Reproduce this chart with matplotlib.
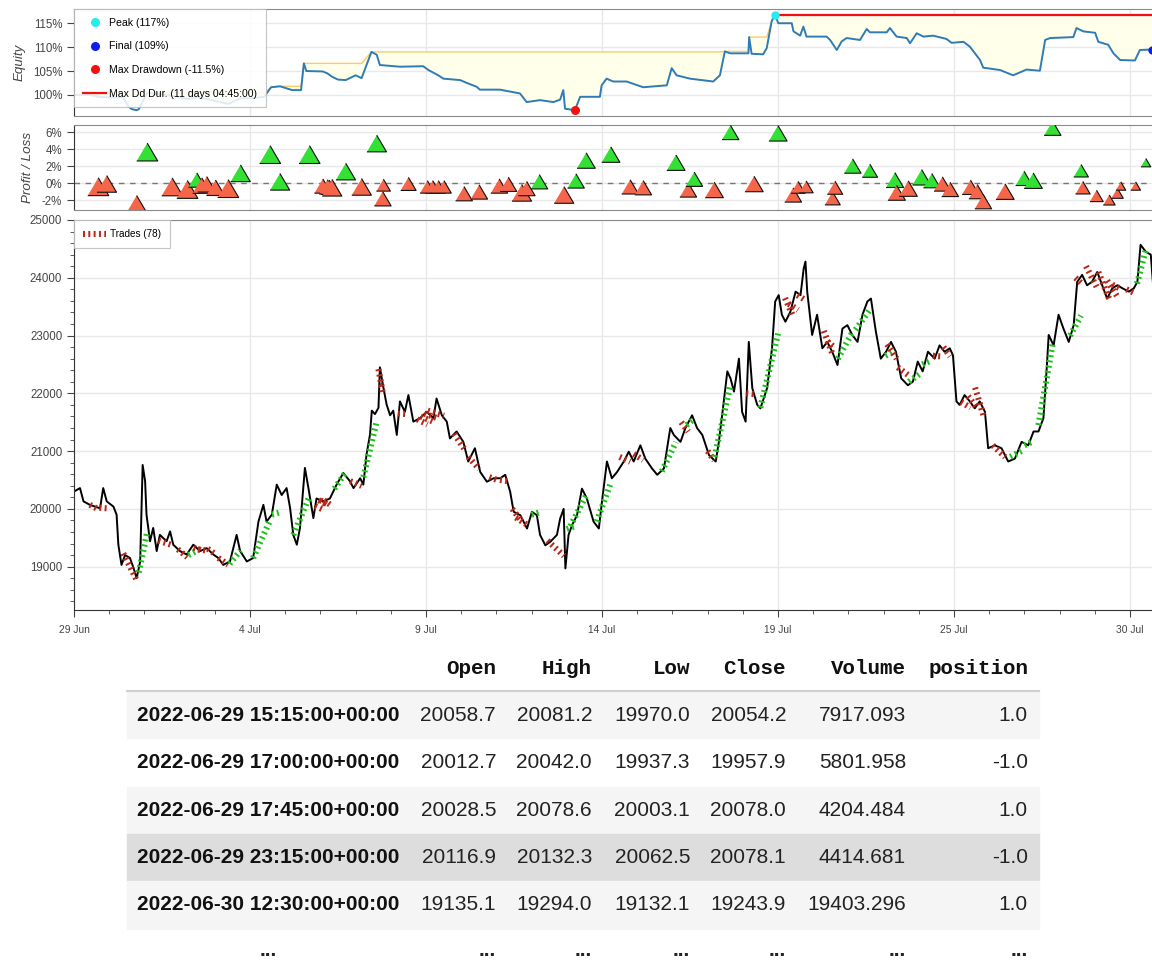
import numpy as np
import matplotlib.pyplot as plt
from matplotlib.lines import Line2D
from matplotlib.patches import Rectangle
from matplotlib.ticker import MultipleLocator

plt.rcParams['font.family'] = ['Liberation Sans', 'DejaVu Sans']

# x positions are in trading-day units, 0 = 29 Jun
tick_days = [0, 5, 10, 15, 20, 25, 30]
tick_labels = ['29 Jun', '4 Jul', '9 Jul', '14 Jul', '19 Jul', '25 Jul', '30 Jul']

price_day = [0.00, 0.17, 0.27, 0.45, 0.74, 0.83, 0.93, 1.12, 1.21, 1.26, 1.35, 1.45, 1.59, 1.69, 1.78,
             1.88, 1.95, 2.02, 2.06, 2.16, 2.25, 2.35, 2.44, 2.63, 2.73, 2.82, 3.01, 3.20, 3.39, 3.58,
             3.77, 3.96, 4.10, 4.24, 4.43, 4.62, 4.72, 4.91, 5.09, 5.24, 5.38, 5.47, 5.62, 5.76, 5.90,
             6.04, 6.14, 6.23, 6.33, 6.42, 6.56, 6.66, 6.80, 6.89, 7.08, 7.27, 7.46, 7.65, 7.84, 7.94,
             8.13, 8.22, 8.31, 8.41, 8.46, 8.55, 8.65, 8.69, 8.79, 8.88, 8.98, 9.07, 9.17, 9.26, 9.40,
             9.50, 9.64, 9.83, 10.02, 10.21, 10.30, 10.45, 10.59, 10.68, 10.87, 11.06, 11.20, 11.39,
             11.54, 11.73, 11.92, 12.11, 12.25, 12.39, 12.49, 12.68, 12.87, 13.01, 13.15, 13.24, 13.39,
             13.53, 13.72, 13.81, 13.91, 13.96, 14.05, 14.15, 14.29, 14.43, 14.57, 14.76, 14.91, 15.00,
             15.14, 15.28, 15.43, 15.62, 15.76, 15.90, 16.09, 16.23, 16.42, 16.57, 16.76, 16.94, 17.04,
             17.23, 17.37, 17.56, 17.70, 17.85, 18.04, 18.23, 18.32, 18.46, 18.56, 18.65, 18.75, 18.89,
             18.98, 19.08, 19.17, 19.27, 19.41, 19.50, 19.69, 19.83, 19.92, 20.02, 20.11, 20.21, 20.35,
             20.50, 20.64, 20.73, 20.78, 20.83, 20.97, 21.11, 21.26, 21.40, 21.54, 21.69, 21.83, 21.97,
             22.11, 22.26, 22.40, 22.54, 22.64, 22.78, 22.92, 23.07, 23.21, 23.35, 23.50, 23.69, 23.83,
             23.97, 24.11, 24.26, 24.45, 24.59, 24.73, 24.88, 24.97, 25.07, 25.16, 25.30, 25.45, 25.59,
             25.73, 25.88, 25.97, 26.16, 26.35, 26.54, 26.73, 26.92, 27.11, 27.26, 27.40, 27.54, 27.64,
             27.69, 27.83, 27.97, 28.11, 28.26, 28.40, 28.50, 28.64, 28.78, 28.92, 29.07, 29.21, 29.35,
             29.50, 29.64, 29.78, 29.97, 30.11, 30.21, 30.30, 30.45, 30.59, 30.70]
price_close = [20300, 20360, 20130, 20070, 20010, 20360, 20130, 20040, 19900, 19380, 19030, 19200, 19150, 18980, 18800,
               19090, 20760, 20480, 19900, 19440, 19670, 19270, 19550, 19440, 19610, 19380, 19270, 19210, 19380, 19270,
               19320, 19210, 19150, 19030, 19090, 19550, 19270, 19090, 19150, 19780, 20070, 19780, 19900, 20420, 20240,
               20360, 20010, 19550, 19380, 19670, 20710, 20360, 19840, 20180, 20130, 20180, 20420, 20620, 20480, 20360,
               20530, 20420, 20940, 21290, 21700, 21640, 21750, 22450, 22100, 21810, 21620, 21700, 21280, 21860, 21680,
               21970, 21510, 21570, 21680, 21570, 21910, 21620, 21510, 21220, 21340, 21160, 20820, 21050,
               20640, 20470, 20530, 20530, 20590, 20300, 19950, 19890, 19660, 19950, 19890, 19550, 19370,
               19430, 19550, 19830, 20000, 18970, 19550, 19720, 19890, 20350, 20180, 19780, 19660, 20130,
               20820, 20530, 20640, 20820, 20990, 20820, 21100, 20870, 20700, 20590, 20700, 21400, 21280,
               21160, 21400, 21620, 21400, 21280, 20930, 20820, 21160, 21860, 22380, 22260, 22030, 22600,
               21680, 21510, 22890, 22090, 21800, 21740, 22090, 22780, 23590, 23700, 23360, 23240, 23410,
               23760, 23700, 24160, 24280, 23760, 23010, 23360, 22780, 22890, 22720, 22490, 23120, 23180,
               23010, 22890, 23360, 23590, 23640, 23070, 22600, 22720, 22890, 22720, 22260, 22140, 22200,
               22550, 22380, 22720, 22600, 22830, 22720, 22780, 22660, 21860, 21800, 21970, 21860, 21740,
               21860, 21680, 21050, 21100, 21050, 20820, 20870, 21160, 21100, 21340, 21340, 21570, 22490,
               23010, 22830, 23360, 23120, 22890, 23180, 23930, 24050, 23870, 23930, 24100, 23870, 23640,
               23820, 23870, 23820, 23760, 23820, 23930, 24570, 24450, 24400, 23530]

equity_day = [0.00, 0.45, 0.69, 0.93, 1.40, 1.55, 1.65, 1.78, 1.84, 2.08, 2.40, 2.79, 3.22, 3.49, 3.63,
              3.77, 4.02, 4.38, 4.73, 5.09, 5.40, 5.60, 5.85, 6.20, 6.45, 6.53, 6.60, 7.07, 7.20, 7.33,
              7.50, 7.72, 8.00, 8.17, 8.45, 8.60, 8.69, 9.26, 9.92, 10.07, 10.35, 10.49, 10.97, 11.16,
              11.44, 11.53, 12.10, 12.67, 12.86, 13.24, 13.62, 13.81, 13.90, 13.95, 14.23, 14.38, 14.94,
              14.99, 15.13, 15.32, 15.70, 16.17, 16.84, 16.98, 17.12, 17.50, 18.16, 18.35, 18.49, 18.64,
              19.16, 19.18, 19.25, 19.58, 19.68, 19.82, 19.91, 20.01, 20.39, 20.44, 20.63, 20.72, 20.81,
              21.38, 21.48, 21.67, 21.81, 21.95, 22.33, 22.52, 22.61, 23.09, 23.18, 23.37, 23.66, 23.75,
              23.94, 24.13, 24.41, 24.79, 24.93, 25.27, 25.45, 25.74, 25.83, 26.31, 26.68, 27.06, 27.44,
              27.59, 27.73, 28.39, 28.48, 28.67, 29.01, 29.10, 29.38, 29.53, 29.72, 30.14, 30.28, 30.63]
equity_pct = [100.0, 100.0, 99.6, 99.5, 99.5, 97.5, 97.0, 96.8, 97.0, 100.4, 100.2, 99.8, 99.1, 99.5, 99.3,
              99.2, 98.7, 98.1, 99.3, 99.3, 99.6, 101.6, 101.8, 101.0, 101.0, 106.6, 105.0, 104.9, 104.5, 103.8,
              103.2, 103.1, 104.1, 103.5, 109.0, 108.4, 106.25, 105.9, 106.0, 105.2, 104.1, 103.4, 103.1, 102.5,
              101.7, 101.1, 101.1, 100.3, 98.5, 98.9, 98.5, 99.0, 101.0, 97.1, 96.8, 99.6, 99.6,
              102.0, 103.4, 102.8, 102.8, 101.6, 102.0, 105.6, 104.1, 103.4, 102.8, 104.1, 109.1, 108.7,
              108.7, 112.1, 108.6, 108.5, 109.8, 115.4, 116.8, 115.0, 115.0, 113.3, 112.4, 114.3, 112.2,
              112.2, 111.5, 109.4, 111.2, 111.9, 111.5, 113.8, 113.1, 113.1, 114.0, 112.2, 111.9, 110.8,
              112.9, 112.2, 112.4, 111.7, 110.9, 111.1, 110.1, 107.3, 105.7, 105.2, 104.1, 105.3, 105.05,
              111.5, 111.9, 112.1, 114.0, 113.3, 113.0, 111.1, 110.5, 108.7, 107.3, 107.2, 109.4, 109.5]

trade_entry_day = [0.45, 0.72, 1.40, 1.84, 2.40, 2.95, 3.25, 3.40, 3.52, 3.80,
                   4.10, 4.42, 5.09, 5.62, 6.23, 6.85, 6.95, 7.00, 7.10, 7.40,
                   7.85, 8.22, 8.65, 8.68, 9.20, 9.75, 9.85, 9.95, 10.05, 10.80,
                   11.20, 11.80, 12.10, 12.45, 12.55, 13.00, 13.45, 14.00, 14.10, 14.85,
                   15.50, 15.90, 16.70, 17.25, 17.40, 18.00, 18.20, 19.10, 19.50, 20.20,
                   20.30, 20.55, 21.30, 21.40, 21.70, 22.20, 23.05, 23.10, 23.40, 23.72,
                   24.10, 24.40, 24.70, 25.20, 25.40, 25.60, 26.10, 26.60, 27.00, 27.40,
                   28.30, 28.45, 28.75, 29.10, 29.35, 29.50, 29.90, 30.20]
trade_exit_day = [0.69, 0.93, 1.78, 2.08, 2.79, 3.22, 3.49, 3.63, 3.77, 4.02,
                  4.38, 4.73, 5.57, 5.85, 6.69, 7.07, 7.20, 7.25, 7.33, 7.72,
                  8.17, 8.60, 8.77, 8.79, 9.50, 10.04, 10.19, 10.35, 10.51, 11.08,
                  11.51, 12.08, 12.34, 12.72, 12.86, 13.22, 13.92, 14.26, 14.55, 15.25,
                  15.80, 16.17, 17.10, 17.45, 17.62, 18.19, 18.65, 19.32, 20.00, 20.43,
                  20.57, 20.80, 21.55, 21.62, 22.12, 22.61, 23.32, 23.37, 23.70, 24.08,
                  24.37, 24.67, 24.89, 25.47, 25.66, 25.83, 26.45, 26.99, 27.25, 27.80,
                  28.61, 28.66, 29.05, 29.41, 29.64, 29.74, 30.16, 30.45]
trade_entry_price = [20070, 20020, 19230, 18900, 19450, 19300, 19200, 19330, 19300, 19310,
                     19150, 19050, 19150, 19900, 19550, 20050, 20150, 20150, 20150, 20350,
                     20480, 20550, 22420, 22150, 21650, 21550, 21600, 21650, 21700, 21300,
                     20900, 20550, 20500, 20000, 19850, 19900, 19450, 19650, 19700, 19780,
                     20900, 20950, 20650, 21500, 21450, 21000, 20900, 22000, 21750, 23650,
                     23550, 23700, 23080, 22900, 22600, 23100, 22650, 22850, 22450, 22200,
                     22500, 22650, 22800, 21850, 21950, 22100, 21100, 20900, 21100, 21450,
                     23000, 24000, 24200, 24100, 23950, 23880, 23800, 23900]
trade_pnl = [-0.38, -0.05, -2.4, 3.7, -0.4, -0.7, 0.4, -0.25, -0.1, -0.5,
             -0.6, 1.2, 3.4, 0.2, 3.4, -0.3, -0.4, -0.45, -0.5, 1.4,
             -0.4, 4.7, -1.8, -0.2, -0.05, -0.4, -0.4, -0.4, -0.4, -1.2,
             -1.0, -0.3, -0.1, -1.1, -0.6, 0.2, -1.35, 0.3, 2.7, 3.4,
             -0.4, -0.5, 2.45, -0.76, 0.5, -0.76, 6.0, -0.06, 5.9, -1.35,
             -0.45, -0.4, -1.75, -0.5, 2.05, 1.5, 0.4, -1.1, -0.6, 0.73,
             0.33, -0.06, -0.7, -0.45, -0.96, -2.14, -0.96, 0.6, 0.33, 6.5,
             1.5, -0.5, -1.47, -1.94, -1.15, -0.3, -0.3, 2.45]
trade_size = [1.0, 0.9, 0.9, 1.0, 1.0, 1.0, 0.7, 0.8, 0.8, 0.8,
              1.0, 0.9, 1.0, 0.9, 1.0, 0.7, 0.7, 0.7, 0.9, 0.9,
              0.9, 0.9, 0.7, 0.5, 0.6, 0.55, 0.55, 0.55, 0.55, 0.7,
              0.7, 0.7, 0.7, 0.9, 0.7, 0.7, 0.9, 0.7, 0.8, 0.8,
              0.7, 0.7, 0.8, 0.7, 0.7, 0.8, 0.7, 0.8, 0.8, 0.7,
              0.5, 0.5, 0.6, 0.6, 0.7, 0.6, 0.75, 0.75, 0.8, 0.8,
              0.7, 0.7, 0.7, 0.7, 0.7, 0.7, 0.8, 0.7, 0.8, 0.7,
              0.55, 0.55, 0.45, 0.35, 0.35, 0.2, 0.2, 0.2]

legend_labels = ['Peak (117%)', 'Final (109%)', 'Max Drawdown (-11.5%)', 'Max Dd Dur. (11 days 04:45:00)']

table_cols = ['Open', 'High', 'Low', 'Close', 'Volume', 'position']
table_index = ['2022-06-29 15:15:00+00:00', '2022-06-29 17:00:00+00:00', '2022-06-29 17:45:00+00:00',
               '2022-06-29 23:15:00+00:00', '2022-06-30 12:30:00+00:00']
table_open = [20058.7, 20012.7, 20028.5, 20116.9, 19135.1]
table_high = [20081.2, 20042.0, 20078.6, 20132.3, 19294.0]
table_low = [19970.0, 19937.3, 20003.1, 20062.5, 19132.1]
table_close = [20054.2, 19957.9, 20078.0, 20078.1, 19243.9]
table_volume = [7917.093, 5801.958, 4204.484, 4414.681, 19403.296]
table_position = [1.0, -1.0, 1.0, -1.0, 1.0]

W, H = 1152, 974
fig = plt.figure(figsize=(W / 100, H / 100), dpi=100)


def fx(px):
    return px / W


def fy(py):
    return 1 - py / H


ax_w = 1.005 - fx(74)
ax_eq = fig.add_axes([fx(74), fy(116), ax_w, (116 - 9) / H])
ax_pl = fig.add_axes([fx(74), fy(210), ax_w, (210 - 125) / H])
ax_px = fig.add_axes([fx(74), fy(610), ax_w, (610 - 220) / H])
xmax = (1.005 * W - 74) / 35.2

for ax in (ax_eq, ax_pl, ax_px):
    ax.set_xlim(0, xmax)
    ax.set_xticks(tick_days)
    ax.grid(True, color='#e8e8e8', lw=1)
    ax.set_axisbelow(True)
    for s in ('top', 'right', 'bottom'):
        ax.spines[s].set_color('#8a8a8a')
    ax.spines['left'].set_color('#333')
    ax.tick_params(labelsize=8.3, labelcolor='#444', color='#444', direction='out', length=5)
for ax in (ax_eq, ax_pl):
    ax.tick_params(axis='x', length=0, labelbottom=False)

# equity
eq_d = np.array(equity_day)
eq = np.array(equity_pct)
runmax = np.maximum.accumulate(eq)
ax_eq.fill_between(eq_d, eq, runmax, color='#ffffea', zorder=1)
ax_eq.plot(eq_d, runmax, color='#ffcb66', lw=1, zorder=2)
ax_eq.plot(eq_d, eq, color='#2f7bb5', lw=1.4, zorder=3)
i_peak = int(np.argmax(eq))
i_dd = int(np.argmin(eq / runmax))
ax_eq.plot([eq_d[i_peak], eq_d[-1]], [eq[i_peak], eq[i_peak]], color='#f01010', lw=1.6, zorder=4)
ax_eq.plot(eq_d[i_peak], eq[i_peak], 'o', color='#22eeee', ms=6, mec='none', zorder=5)
ax_eq.plot(eq_d[-1], eq[-1], 'o', color='#0a20f0', ms=6, mec='none', zorder=5)
ax_eq.plot(eq_d[i_dd], eq[i_dd], 'o', color='#f01010', ms=6.5, mec='none', zorder=5, clip_on=False)
ax_eq.set_ylim(95.58, 117.98)
ax_eq.set_yticks([100, 105, 110, 115])
ax_eq.set_yticklabels(['100%', '105%', '110%', '115%'])
ax_eq.set_ylabel('Equity', fontsize=9.6, style='italic', color='#444')
ax_eq.yaxis.set_label_coords(-0.045, 0.5)
hnd = [Line2D([], [], ls='none', marker='o', ms=6.5, color='#22eeee', mec='none'),
       Line2D([], [], ls='none', marker='o', ms=6.5, color='#0a20f0', mec='none'),
       Line2D([], [], ls='none', marker='o', ms=6.5, color='#f01010', mec='none'),
       Line2D([], [], color='#f01010', lw=1.6)]
leg = ax_eq.legend(hnd, legend_labels, loc='upper left', bbox_to_anchor=(0, 1), borderaxespad=0,
                   fontsize=7.6, fancybox=False, edgecolor='#bbbbbb', framealpha=0.85,
                   labelspacing=1.28, handlelength=2.2, handletextpad=0.3, borderpad=0.85)
leg.get_frame().set_linewidth(0.8)

# profit / loss
pnl = np.array(trade_pnl)
ax_pl.axhline(0, color='#777', lw=1, ls=(0, (4, 4)), zorder=1)
tri = [(-1, -0.85), (1, -0.85), (0, 0.85)]
msize = (7 + 14 * np.array(trade_size)) / 1.389
cols = np.where(pnl >= 0, '#33e033', '#f5654a')
ax_pl.scatter(trade_exit_day, pnl, s=msize ** 2, marker=tri, c=cols, edgecolors='#111', linewidths=0.8, zorder=3)
ax_pl.set_ylim(-3.12, 6.88)
ax_pl.set_yticks([-2, 0, 2, 4, 6])
ax_pl.set_yticklabels(['-2%', '0%', '2%', '4%', '6%'])
ax_pl.set_ylabel('Profit / Loss', fontsize=9.6, style='italic', color='#444')
ax_pl.yaxis.set_label_coords(-0.037, 0.5)

# price + trades
ax_px.plot(price_day, price_close, color='black', lw=1.4, zorder=2)
for d0, d1, p0, r in zip(trade_entry_day, trade_exit_day, trade_entry_price, trade_pnl):
    c = '#1ec21e' if r >= 0 else '#bb2616'
    ax_px.plot([d0, d1], [p0, p0 * (1 + r / 100)], color=c, lw=4.4, ls=(0, (0.32, 0.55)),
               solid_capstyle='butt', dash_capstyle='butt', zorder=3)
ax_px.set_ylim(18250, 25000)
ax_px.set_yticks(range(19000, 25001, 1000))
ax_px.yaxis.set_minor_locator(MultipleLocator(200))
ax_px.xaxis.set_minor_locator(MultipleLocator(1))
ax_px.set_xticklabels(tick_labels)
ax_px.tick_params(which='minor', length=3, color='#444', direction='out')
ax_px.tick_params(axis='x', labelsize=7.4, pad=6)
ax_px.spines['bottom'].set_color('#333')
tl = Line2D([], [], color='#bb2616', lw=4.4, ls=(0, (0.32, 0.55)), dash_capstyle='butt')
lg2 = ax_px.legend([tl], ['Trades (%d)' % len(trade_pnl)], loc='upper left', bbox_to_anchor=(0, 1),
                   borderaxespad=0, fontsize=7.2, fancybox=False, edgecolor='#bbbbbb', framealpha=0.85,
                   handlelength=2.3, handletextpad=0.35, borderpad=0.9)
lg2.get_frame().set_linewidth(0.8)

# data table below the chart
row_bg = ['#f5f5f5', '#ffffff', '#f5f5f5', '#dddddd', '#f5f5f5']
col_right = [496, 592, 690, 786, 906, 1028]
row_h = 47.3
fig.add_artist(Line2D([fx(127), fx(1039)], [fy(691), fy(691)], color='#d0d0d0', lw=1.5))
for i, bg in enumerate(row_bg):
    y0 = 692 + row_h * i
    fig.add_artist(Rectangle((fx(127), fy(y0 + row_h)), fx(1039) - fx(127), row_h / H,
                             transform=fig.transFigure, color=bg, zorder=0))
for name, xr in zip(table_cols, col_right):
    fig.text(fx(xr), fy(668), name, ha='right', va='center', fontsize=15, fontweight='bold',
             family='Liberation Mono', color='#111')
cols_data = [table_open, table_high, table_low, table_close, table_volume, table_position]
fmts = ['%.1f', '%.1f', '%.1f', '%.1f', '%.3f', '%.1f']
for i, idx in enumerate(table_index):
    yc = fy(692 + row_h * (i + 0.5))
    fig.text(fx(137), yc, idx, ha='left', va='center', fontsize=15, fontweight='bold', color='#111')
    for vals, fm, xr in zip(cols_data, fmts, col_right):
        fig.text(fx(xr), yc, fm % vals[i], ha='right', va='center', fontsize=15, color='#222')
fig.text(fx(268), fy(951), '...', ha='center', va='center', fontsize=15, fontweight='bold', color='#222')
for xr in col_right:
    fig.text(fx(xr), fy(951), '...', ha='right', va='center', fontsize=15, fontweight='bold', color='#222')

fig.savefig('out.png', dpi=100)
